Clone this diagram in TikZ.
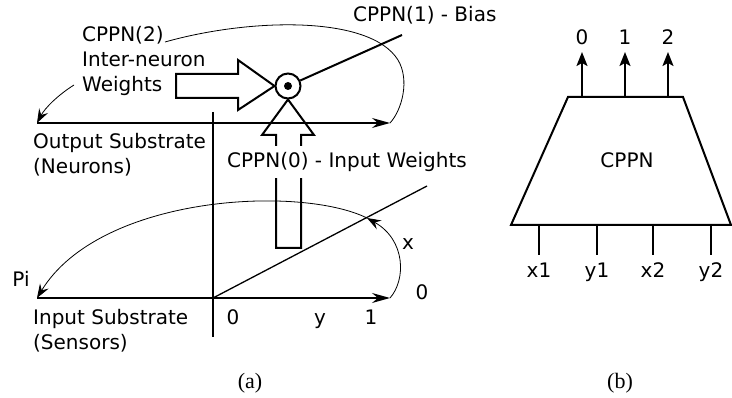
\documentclass[tikz,border=0pt]{standalone}
\usepackage{fontspec}
\setmainfont{DejaVu Sans}
\newfontfamily\capfont{Liberation Serif}
\usetikzlibrary{arrows.meta}
\begin{document}
\begin{tikzpicture}[x=1pt,y=-1pt,
  lbl/.style={font=\fontsize{20}{25}\selectfont, inner sep=0pt},
  caplbl/.style={font=\capfont\fontsize{22}{26}\selectfont, inner sep=0pt},
  thinline/.style={line width=0.8pt},
  axisline/.style={line width=1.3pt},
  heavyline/.style={line width=2pt, line join=miter},
  bigtip/.style={-{Stealth[length=18pt,width=10pt,inset=6pt]}},
  smalltip/.style={-{Stealth[length=14pt,width=10pt,inset=5pt]}},
  outtip/.style={-{Stealth[length=14pt,width=11pt,inset=3pt]}}
]
\useasboundingbox (0,0) rectangle (732,398);

% ---------- (a) ----------
\coordinate (oL) at (37,123);
\coordinate (oR) at (390,123);
\coordinate (vT) at (213,112);
\coordinate (vB) at (213,337);
\coordinate (iL) at (37,298);
\coordinate (iO) at (213,298);
\coordinate (iR) at (390,298);
\coordinate (dE) at (427,186);
\coordinate (arcS) at (367,218);
\coordinate (bE) at (402,35);

\draw[axisline, bigtip] (oL) -- (oR);
\draw[axisline, bigtip] (iL) -- (iR);
\draw[heavyline] (vT) -- (vB);
\draw[axisline] (iO) -- (dE);

% neuron
\node[circle, draw, line width=2pt, minimum size=25pt, inner sep=0pt, fill=white] (neu) at (288,86) {};
\fill (neu.center) circle (4pt);
\draw[heavyline] (neu) -- (bE);

% hollow arrows
\draw[heavyline] (176,74) -- (238,74) -- (238,60) -- (neu.west) -- (238,110) -- (238,98) -- (176,98) -- cycle;
\draw[heavyline] (276,248) -- (276,135) -- (262,135) -- (neu.south) -- (314,135) -- (301,135) -- (301,248) -- cycle;

% labels
\node[lbl, anchor=west] (bias) at (353,15) {CPPN(1) - Bias};
\node[lbl, anchor=north west, align=left] (inter) at (82,26) {CPPN(2)\\Inter-neuron\\Weights};
\node[lbl, anchor=north west, align=left] (outs) at (33,133) {Output Substrate\\(Neurons)};
\node[lbl, anchor=north west, align=left] (ins) at (33,309) {Input Substrate\\(Sensors)};
\node[lbl, fill=white, inner ysep=6pt, inner xsep=2pt] (inw) at (347,162) {CPPN(0) - Input Weights};
\node[lbl, anchor=base] (pi) at (21,287) {Pi};
\node[lbl, anchor=base] (z1) at (233,325) {0};
\node[lbl, anchor=base] (yl) at (320,325) {y};
\node[lbl, anchor=base] (one) at (371,325) {1};
\node[lbl, anchor=base] (z2) at (422,300) {0};
\node[lbl, anchor=base] (xl) at (408,250) {x};

% curves
\coordinate (c2s) at (165,42);
\draw[thinline] (c2s) .. controls (250,18) and (370,15) .. (398,60)
   .. controls (410,80) and (402,110) .. (oR);
\coordinate (ws) at (74,85);
\draw[thinline, smalltip] (ws) .. controls (58,95) and (45,108) .. (oL);
\draw[thinline, smalltip] (arcS) .. controls (300,185) and (100,195) .. (iL);
\draw[thinline, smalltip] (iR) .. controls (406,280) and (406,240) .. (arcS);

\node[caplbl, anchor=base] (capa) at (250,389) {(a)};

% ---------- (b) ----------
\coordinate (tl) at (568,97);
\coordinate (tr) at (683,97);
\coordinate (br) at (731,225);
\coordinate (bl) at (511,225);
\draw[heavyline] (tl) -- (tr) -- (br) -- (bl) -- cycle;
\node[lbl, anchor=base] (cppn) at (627,168) {CPPN};

\foreach \x/\t/\n in {582/0/o0, 625/1/o1, 668/2/o2}{
  \coordinate (\n b) at (\x,97);
  \coordinate (\n t) at (\x,52);
  \draw[heavyline, outtip] (\n b) -- (\n t);
  \node[lbl, anchor=base] (\n) at (\x,45) {\t};
}
\foreach \x/\t/\n in {539/x1/i1, 597/y1/i2, 653/x2/i3, 711/y2/i4}{
  \coordinate (\n t) at (\x,225);
  \coordinate (\n b) at (\x,255);
  \draw[heavyline] (\n t) -- (\n b);
  \node[lbl, anchor=base] (\n) at (\x,278) {\t};
}
\node[caplbl, anchor=base] (capb) at (620,389) {(b)};
\end{tikzpicture}
\end{document}
